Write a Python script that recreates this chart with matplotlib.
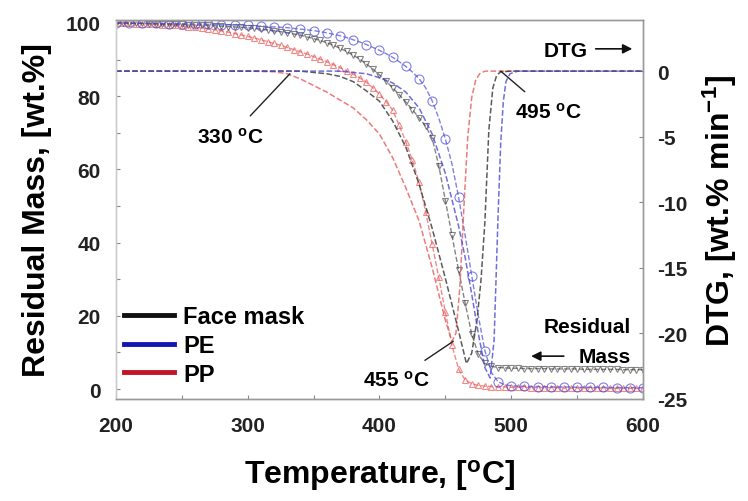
import numpy as np
import matplotlib
matplotlib.use("Agg")
from matplotlib import pyplot as plt
from matplotlib.lines import Line2D
from matplotlib.ticker import MultipleLocator

plt.rcParams['font.family'] = 'Liberation Sans'
plt.rcParams['font.weight'] = 'bold'
plt.rcParams['axes.labelweight'] = 'bold'
plt.rcParams['axes.unicode_minus'] = False
plt.rcParams['mathtext.fontset'] = 'custom'
plt.rcParams['mathtext.rm'] = 'Liberation Sans:bold'
plt.rcParams['mathtext.it'] = 'Liberation Sans:bold'
plt.rcParams['mathtext.bf'] = 'Liberation Sans:bold'
plt.rcParams['mathtext.default'] = 'rm'

# TGA residual mass, 5 degC steps from 200 to 600
temp_tg = np.arange(200, 601, 5)

mass_pe = [100.0, 100.0, 100.0, 99.9, 99.9, 99.9, 99.9, 99.8, 99.8, 99.8, 99.8, 99.7, 99.7, 99.7, 99.6, 99.6, 99.5, 99.5, 99.4, 99.4, 99.3,
           99.2, 99.1, 99.0, 98.9, 98.8, 98.7, 98.5, 98.3, 98.1, 97.9, 97.6, 97.3, 96.9, 96.5, 96.0, 95.4, 94.8, 94.1, 93.3, 92.5,
           91.6, 90.6, 89.4, 88.1, 86.6, 84.8, 82.3, 78.7, 74.0, 68.3, 61.5, 52.5, 42.0, 31.0, 20.0, 10.5, 4.5, 2.0, 1.2, 0.9,
           0.8, 0.8, 0.7, 0.7, 0.7, 0.6, 0.6, 0.6, 0.6, 0.5, 0.5, 0.5, 0.5, 0.5, 0.4, 0.4, 0.4, 0.4, 0.4, 0.4]

mass_mask = [100.0, 100.0, 99.9, 99.9, 99.9, 99.8, 99.8, 99.7, 99.7, 99.6, 99.6, 99.5, 99.4, 99.4, 99.3, 99.2, 99.1, 99.0, 98.9, 98.8, 98.7,
             98.5, 98.3, 98.1, 97.9, 97.6, 97.3, 97.0, 96.6, 96.2, 95.7, 95.2, 94.6, 93.9, 93.1, 92.2, 91.2, 90.1, 88.8, 87.4, 85.8,
             84.1, 82.3, 80.4, 78.4, 76.3, 74.1, 71.8, 68.5, 61.0, 51.5, 42.0, 32.5, 23.5, 15.0, 9.5, 7.0, 6.2, 5.9, 5.8, 5.7,
             5.7, 5.6, 5.6, 5.6, 5.6, 5.5, 5.5, 5.5, 5.5, 5.5, 5.4, 5.4, 5.4, 5.4, 5.4, 5.4, 5.3, 5.3, 5.3, 5.3]

mass_pp = [100.0, 99.9, 99.9, 99.8, 99.8, 99.7, 99.6, 99.5, 99.4, 99.3, 99.2, 99.0, 98.8, 98.6, 98.4, 98.1, 97.8, 97.5, 97.1, 96.7, 96.3,
           95.9, 95.4, 94.9, 94.4, 93.9, 93.3, 92.7, 92.1, 91.5, 90.8, 90.1, 89.4, 88.6, 87.8, 86.9, 86.0, 85.0, 83.8, 82.3, 80.5,
           78.5, 76.2, 72.0, 67.5, 62.5, 56.5, 48.5, 39.5, 30.5, 21.0, 12.0, 5.5, 2.5, 1.5, 1.0, 0.8, 0.7, 0.6, 0.6, 0.5,
           0.5, 0.5, 0.4, 0.4, 0.4, 0.4, 0.4, 0.3, 0.3, 0.3, 0.3, 0.3, 0.3, 0.3, 0.2, 0.2, 0.2, 0.2, 0.2, 0.2]

# DTG curves
temp_dtg_pp = [200, 300, 320, 330, 340, 350, 360, 370, 380, 390, 400, 410, 420, 430, 440, 445, 450, 455,
               458, 461, 464, 467, 470, 473, 476, 480, 500, 600]
dtg_pp = [0, 0, -0.05, -0.2, -0.6, -1.1, -1.6, -2.2, -2.8, -3.7, -4.8, -6.6, -8.9, -11.4, -15.0, -17.0, -19.0, -20.6,
          -20.0, -16.5, -10.5, -5.0, -2.0, -0.7, -0.2, 0, 0, 0]

temp_dtg_mask = [200, 340, 350, 360, 370, 380, 390, 400, 410, 420, 430, 440, 450, 455, 460, 466,
                 470, 474, 477, 480, 483, 486, 489, 492, 500, 600]
dtg_mask = [0, 0, -0.1, -0.2, -0.4, -0.8, -1.5, -2.3, -3.8, -5.8, -8.6, -12.0, -15.8, -17.8, -19.8, -22.3,
            -21.5, -19.0, -16.0, -11.5, -4.5, -1.3, -0.3, -0.05, 0, 0]

temp_dtg_pe = [200, 370, 380, 390, 400, 410, 420, 430, 440, 450, 460, 465, 470, 475, 480, 484,
               487, 490, 492, 494, 496, 499, 505, 600]
dtg_pe = [0, 0, -0.1, -0.2, -0.5, -0.9, -1.6, -2.8, -4.8, -7.8, -11.8, -14.2, -17.0, -20.0, -22.6, -23.4,
          -20.5, -11.0, -5.5, -2.3, -0.8, -0.2, 0, 0]

c_mask = '#333333'
c_pe = '#4a4ad8'
c_pp = '#e85a5a'

fig = plt.figure(figsize=(7.48, 5.02), dpi=100)
ax = fig.add_axes([0.1551, 0.2032, 0.7045, 0.755])
ax2 = ax.twinx()

# residual mass (left axis)
ax.plot(temp_tg, mass_pp, '--', color=c_pp, lw=1.0, marker='^', ms=5, mfc='none', mew=0.8, alpha=0.7)
ax.plot(temp_tg, mass_mask, '--', color=c_mask, lw=1.0, marker='v', ms=5, mfc='none', mew=0.8, alpha=0.6)
ax.plot(temp_tg, mass_pe, '--', color=c_pe, lw=1.0, marker='o', ms=6.5, mfc='none', mew=0.8, markevery=2, alpha=0.7)

# DTG (right axis)
ax2.plot(temp_dtg_pp, dtg_pp, '--', color=c_pp, lw=1.1, alpha=0.8)
ax2.plot(temp_dtg_mask, dtg_mask, '--', color=c_mask, lw=1.1, alpha=0.8)
ax2.plot(temp_dtg_pe, dtg_pe, '--', color=c_pe, lw=1.1, alpha=0.8)

ax.set_xlim(200, 600)
ax.set_ylim(-2.7, 100.8)
ax2.set_ylim(-25, 3.9)

ax.xaxis.set_major_locator(MultipleLocator(100))
ax.xaxis.set_minor_locator(MultipleLocator(50))
ax.yaxis.set_major_locator(MultipleLocator(20))
ax.yaxis.set_minor_locator(MultipleLocator(10))
ax2.set_yticks([0, -5, -10, -15, -20, -25])

ax.tick_params(axis='both', which='both', direction='in', length=3, width=0.8, colors='#888888',
               labelcolor='#222222', labelsize=15)
ax.tick_params(axis='x', pad=12)
ax.tick_params(axis='y', pad=11)
ax2.tick_params(axis='y', which='both', direction='in', length=3, width=0.8, colors='#888888',
                labelcolor='#222222', labelsize=15, pad=10)

for a in (ax, ax2):
    for s in a.spines.values():
        s.set_color('#999999')
        s.set_linewidth(1)
ax.spines['left'].set_color('#cccccc')
ax2.spines['left'].set_color('#cccccc')

ax.set_xlabel('Temperature, [$^{o}$C]', fontsize=23, labelpad=16)
ax.set_ylabel('Residual Mass, [wt.%]', fontsize=23, labelpad=10)
ax2.set_ylabel('DTG, [wt.% min$^{-1}$]', fontsize=23, labelpad=10)

# onset / peak temperatures
ax2.annotate('330 $^{o}$C', xy=(332, -0.2), xytext=(287, -5.0), fontsize=15, ha='center', va='center',
             arrowprops=dict(arrowstyle='-', color='#222222', lw=1, shrinkA=8, shrinkB=0))
ax2.annotate('455 $^{o}$C', xy=(456, -20.6), xytext=(413, -23.5), fontsize=15, ha='center', va='center',
             arrowprops=dict(arrowstyle='-', color='#222222', lw=1, shrinkA=8, shrinkB=0))
ax2.annotate('495 $^{o}$C', xy=(492, 0), xytext=(528, -3.1), fontsize=15, ha='center', va='center',
             arrowprops=dict(arrowstyle='-', color='#222222', lw=1, shrinkA=8, shrinkB=0))

# axis pointers
ax2.text(541, 1.6, 'DTG', fontsize=15, ha='center', va='center')
ax2.annotate('', xy=(594, 1.7), xytext=(562, 1.7),
             arrowprops=dict(arrowstyle='-|>', color='#111111', lw=1.2, mutation_scale=14))
ax.text(591, 17, 'Residual', fontsize=15, ha='right', va='center')
ax.text(591, 9, 'Mass', fontsize=15, ha='right', va='center')
ax.annotate('', xy=(513, 9), xytext=(542, 9),
            arrowprops=dict(arrowstyle='-|>', color='#111111', lw=1.2, mutation_scale=14))

handles = [Line2D([], [], color='#111111', lw=3.5),
           Line2D([], [], color='#1515b5', lw=3.5),
           Line2D([], [], color='#c01525', lw=3.5)]
ax.legend(handles, ['Face mask', 'PE', 'PP'], loc='lower left', bbox_to_anchor=(0.015, 0.035),
          frameon=False, fontsize=17, handlelength=2.1, handletextpad=0.4, labelspacing=0.25,
          borderpad=0, borderaxespad=0)

fig.savefig('out.png', dpi=100)
